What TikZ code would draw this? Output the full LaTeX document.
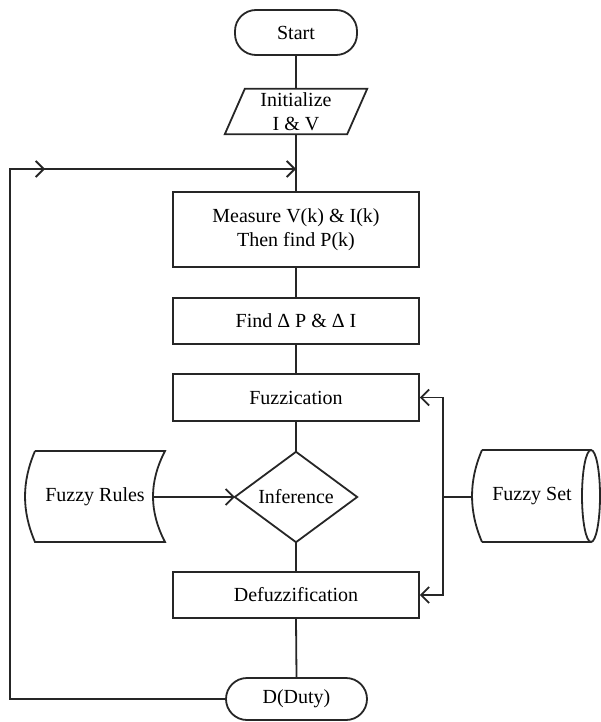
\documentclass[tikz,border=0pt]{standalone}
\usepackage{fontspec}
\setmainfont{Liberation Serif}
\usetikzlibrary{arrows.meta,calc}
\begin{document}
\begin{tikzpicture}[x=1pt,y=-1pt,
  every node/.style={font=\fontsize{20}{23.5}\selectfont, inner sep=0pt, align=center},
  ln/.style={line width=1.8pt, draw=black!85},
  arr/.style={ln, -{Straight Barb[length=8pt,width=16pt,line width=1.8pt]}},
  box/.style={ln, draw, rectangle, minimum width=246pt},
  term/.style={ln, draw, rectangle, rounded corners=21pt}
]
\useasboundingbox (0,0) rectangle (601,722);
% nodes
\node[term, minimum width=122pt, minimum height=45pt] (start) at (296,32.5) {Start};
\node[minimum width=122pt, minimum height=45pt] (init) at (296,111.5) {Initialize\\I \& V};
\node[box, minimum height=75pt] (meas) at (296,229.5) {Measure V(k) \& I(k)\\Then find P(k)};
\node[box, minimum height=46pt] (find) at (296,321) {Find Δ P \& Δ I};
\node[box, minimum height=47pt] (fuzz) at (296,397.5) {Fuzzication};
\node[minimum width=122pt, minimum height=90pt] (inf) at (296,497) {Inference};
\node[box, minimum height=46pt] (defuzz) at (296,595) {Defuzzification};
\node[term, minimum width=141pt, minimum height=42pt] (duty) at (296.5,699) {D(Duty)};
\node[minimum width=130pt, minimum height=91pt] (rules) at (95,496.5) {Fuzzy Rules};
\node[minimum width=110pt, minimum height=92pt] (fset) at (532,496) {Fuzzy Set};
% shapes drawn around named nodes
\draw[ln, line join=miter] ([xshift=10pt]init.north west) -- ([xshift=10pt]init.north east)
  -- ([xshift=-10pt]init.south east) -- ([xshift=-10pt]init.south west) -- cycle;
\draw[ln] (inf.north) -- (inf.east) -- (inf.south) -- (inf.west) -- cycle;
\draw[ln] (35,451) -- (165,451) .. controls (149,482) and (149,511) .. (165,542)
  -- (35,542) .. controls (21.7,511) and (21.7,482) .. (35,451);
\draw[ln] (482,450) -- (591,450) (482,542) -- (591,542)
  (482,450) .. controls (468.7,481) and (468.7,511) .. (482,542);
\draw[ln] (591,496) ellipse [x radius=9pt, y radius=46pt];
% coordinates
\coordinate (join) at (296,169);
\coordinate (mid) at (45,169);
\coordinate (lb) at (10,699);
\coordinate (lt) at (10,169);
\coordinate (rulesout) at (153,497);
\coordinate (fsetin) at (472,497);
\coordinate (bus) at (443,497);
% connectors
\draw[ln] (start.south) -- (init.south |- init.north);
\draw[ln] (init.south) -- (meas.north);
\draw[ln] (meas.south) -- (find.north);
\draw[ln] (find.south) -- (fuzz.north);
\draw[ln] (fuzz.south) -- (inf.north);
\draw[ln] (inf.south) -- (defuzz.north);
\draw[ln] (defuzz.south) -- (duty.north);
\draw[ln] (duty.west) -- (lb) -- (lt) -- (mid);
\draw[arr] (lt) -- (mid);
\draw[arr] (mid) -- (join);
\draw[arr] (rulesout) -- (inf.west);
\draw[ln] (fsetin) -- (bus);
\draw[arr] (bus) |- (fuzz.east);
\draw[arr] (bus) |- (defuzz.east);
\end{tikzpicture}
\end{document}
